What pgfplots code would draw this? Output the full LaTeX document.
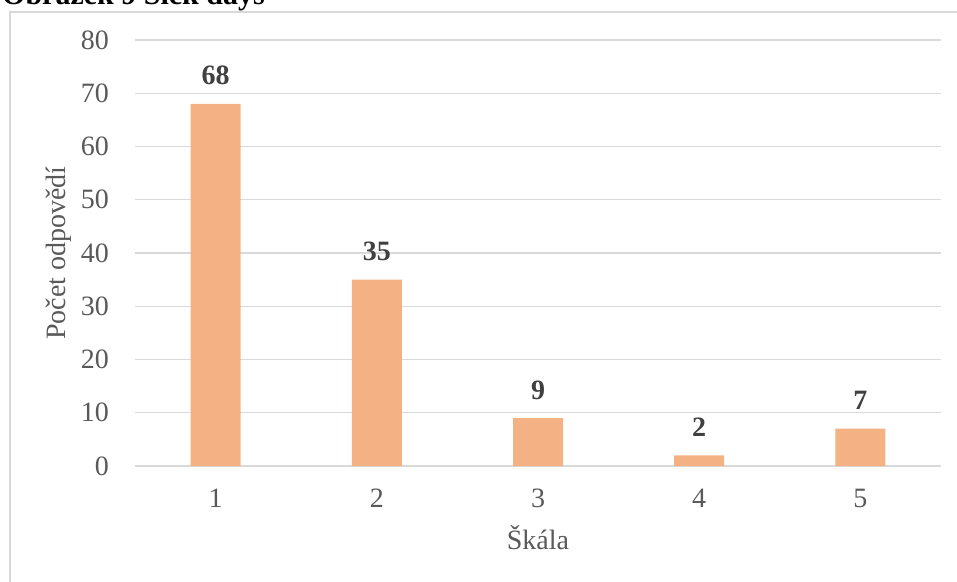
\documentclass[border=0pt]{standalone}
\usepackage{pgfplots}
\pgfplotsset{compat=1.18}
\usepackage{fontspec}
\setmainfont{Liberation Serif}

\definecolor{barfill}{HTML}{F4B183}
\definecolor{gridgray}{HTML}{D9D9D9}
\definecolor{labelgray}{HTML}{595959}
\definecolor{valuegray}{HTML}{404040}

\pgfplotstableread{
cat count
1 68
2 35
3 9
4 2
5 7
}\sickdays

\begin{document}
\begin{tikzpicture}
% chart frame
\draw[gridgray, line width=2.5pt] (10pt,-600pt) -- (10pt,-12pt) -- (980pt,-12pt);
% caption above the frame
\node[anchor=base west, inner sep=0pt, font=\fontsize{30}{35}\selectfont\bfseries]
  at (2pt,-4pt) {Obrázek 9 Sick days};

\begin{axis}[
  at={(135pt,-466pt)}, anchor=south west,
  scale only axis, width=806pt, height=426pt,
  xmin=0.5, xmax=5.5, ymin=0, ymax=80,
  xtick={1,2,3,4,5}, ytick={0,10,...,80},
  ymajorgrids, grid style={gridgray, line width=1.4pt},
  axis line style={draw=none},
  major tick length=0pt,
  /pgf/number format/assume math mode=true,
  ticklabel style={font=\fontsize{28}{33}\selectfont, text=labelgray, inner sep=0pt},
  yticklabel style={anchor=east, xshift=-26pt},
  xticklabel style={anchor=north, yshift=-23pt},
  xlabel={Škála}, ylabel={Počet odpovědí},
  label style={font=\fontsize{28}{33}\selectfont, text=labelgray, inner sep=0pt},
  xlabel style={at={(axis description cs:0.5,-0.195)}, anchor=base},
  ylabel style={at={(axis description cs:-0.095,0.5)}, anchor=center},
  ybar, bar width=50pt,
  nodes near coords,
  every node near coord/.append style={anchor=base, yshift=19pt, inner sep=0pt,
    font=\fontsize{28}{33}\selectfont\bfseries, text=valuegray},
]
\addplot[fill=barfill, draw=none, bar shift=0pt] table[x=cat, y=count] {\sickdays};
\end{axis}

\pgfresetboundingbox
\useasboundingbox (0pt,0pt) rectangle (957pt,-581pt);
\end{tikzpicture}
\end{document}
